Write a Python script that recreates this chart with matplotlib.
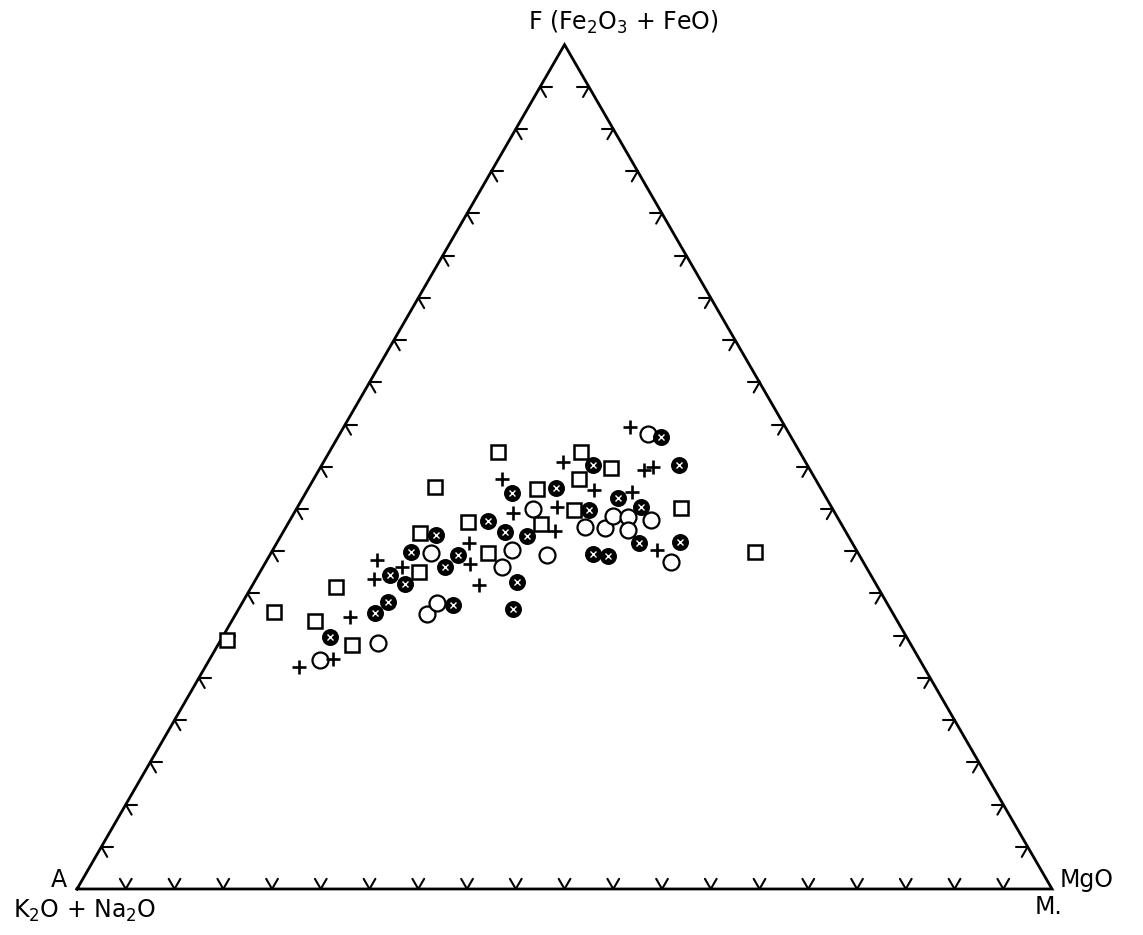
import numpy as np
import matplotlib.pyplot as plt

# AFM compositions in percent: A = K2O+Na2O, F = Fe2O3+FeO, M = MgO
sq_A = [69.9, 63.4, 59.7, 55.5, 57.3, 46.2, 43.7, 39.5, 38.2, 37.9, 30.9, 29.1, 30.8, 26.6, 24.2, 22.4, 20.3, 15.5, 10.5]
sq_F = [29.5, 32.8, 31.7, 35.8, 28.9, 37.5, 42.2, 47.6, 43.5, 39.8, 51.8, 47.4, 43.2, 44.9, 48.6, 51.8, 49.9, 45.1, 39.9]
sq_M = [0.6, 3.8, 8.6, 8.7, 13.8, 16.3, 14.1, 12.9, 18.3, 22.3, 17.3, 23.5, 26.0, 28.5, 27.2, 25.8, 29.8, 39.4, 49.6]

oc_A = [61.5, 54.6, 43.8, 47.8, 46.1, 37.4, 35.3, 30.7, 32.0, 26.5, 24.5, 22.9, 21.4, 22.2, 19.3, 14.5, 19.7]
oc_F = [27.1, 29.1, 39.8, 32.6, 33.9, 38.1, 40.1, 45.0, 39.6, 42.9, 42.8, 44.2, 44.1, 42.5, 43.7, 53.9, 38.7]
oc_M = [11.4, 16.3, 16.4, 19.6, 20.0, 24.5, 24.6, 24.3, 28.4, 30.6, 32.7, 32.9, 34.5, 35.3, 37.0, 31.6, 41.6]

fc_A = [59.2, 53.1, 51.1, 49.3, 48.3, 45.8, 42.2, 43.2, 41.1, 44.6, 36.0, 35.0, 32.9, 31.9, 36.7, 38.7, 27.1,
        22.0, 25.0, 21.4, 19.6, 13.4, 13.2, 27.2, 25.8, 21.9, 17.6]
fc_F = [29.8, 32.7, 34.0, 37.2, 36.1, 39.9, 41.9, 38.1, 39.6, 33.6, 43.6, 42.3, 41.8, 46.9, 36.4, 33.2, 47.5,
        50.2, 44.9, 46.3, 45.2, 53.5, 50.2, 39.7, 39.4, 41.0, 41.1]
fc_M = [11.0, 14.2, 14.9, 13.5, 15.6, 14.3, 15.9, 18.7, 19.3, 21.8, 20.4, 22.7, 25.3, 21.2, 26.9, 28.1, 25.4,
        27.8, 30.1, 32.3, 35.2, 33.1, 36.6, 33.1, 34.8, 37.1, 41.3]

pl_A = [64.1, 60.1, 55.9, 51.2, 49.7, 47.6, 39.3, 40.4, 40.8, 32.1, 33.0, 29.8, 28.2, 24.9, 23.3, 19.6, 15.9, 17.1, 15.9, 20.5]
pl_F = [26.3, 27.2, 32.2, 36.7, 39.0, 38.1, 41.0, 38.5, 36.0, 48.6, 44.5, 42.4, 45.2, 50.6, 47.3, 47.0, 54.7, 49.6, 50.0, 40.1]
pl_M = [9.6, 12.7, 11.9, 12.1, 11.3, 14.3, 19.7, 21.1, 23.2, 19.3, 22.5, 27.8, 26.6, 24.5, 29.4, 33.4, 29.4, 33.3, 34.1, 39.4]

tick_steps = np.arange(1, 20) / 20.0

H = np.sqrt(3) / 2


def tern(A, F, M):
    A, F, M = np.asarray(A, float), np.asarray(F, float), np.asarray(M, float)
    s = A + F + M
    f, m = F / s, M / s
    return m + f / 2, f * H


fig = plt.figure(figsize=(11.43, 9.35), dpi=100)
ax = fig.add_axes([0, 0, 1, 1])
ax.set_xlim(-0.079, 1.0933)
ax.set_ylim(-0.0472, 0.9118)
ax.axis('off')

# triangle
ax.plot([0, 1, 0.5, 0], [0, 0, H, 0], color='black', lw=2.0, solid_joinstyle='miter')

# chevron ticks every 5 %
L = 0.012
edges = [
    (lambda t: (t, 0 * t), [(-0.5, H), (0.5, H)]),
    (lambda t: (t / 2, t * H), [(1, 0), (0.5, -H)]),
    (lambda t: (1 - t / 2, t * H), [(-1, 0), (-0.5, -H)]),
]
for pos, arms in edges:
    px, py = pos(tick_steps)
    for x0, y0 in zip(px, py):
        for dx, dy in arms:
            ax.plot([x0, x0 + L * dx], [y0, y0 + L * dy], color='black', lw=1.5,
                    solid_capstyle='round')

# data
x, y = tern(sq_A, sq_F, sq_M)
ax.plot(x, y, 's', ms=10.5, mfc='white', mec='black', mew=1.8, ls='none')
x, y = tern(oc_A, oc_F, oc_M)
ax.plot(x, y, 'o', ms=11.5, mfc='white', mec='black', mew=1.6, ls='none')
x, y = tern(fc_A, fc_F, fc_M)
ax.plot(x, y, 'o', ms=11, mfc='black', mec='black', mew=1.2, ls='none')
ax.plot(x, y, 'x', ms=4, mec='white', mew=1.0, ls='none')
x, y = tern(pl_A, pl_F, pl_M)
ax.plot(x, y, '+', ms=10.5, mec='black', mew=1.9, ls='none')

# vertex labels
fs = 17
ax.text(0.4626, 0.889, r'F (Fe$_2$O$_3$ + FeO)', fontsize=fs, ha='left', va='center')
ax.text(-0.0185, 0.0092, 'A', fontsize=fs, ha='center', va='center')
ax.text(-0.0656, -0.0226, r'K$_2$O + Na$_2$O', fontsize=fs, ha='left', va='center')
ax.text(1.0082, 0.0092, 'MgO', fontsize=fs, ha='left', va='center')
ax.text(0.9826, -0.0185, 'M.', fontsize=fs, ha='left', va='center')

fig.savefig('out.png', dpi=100)
